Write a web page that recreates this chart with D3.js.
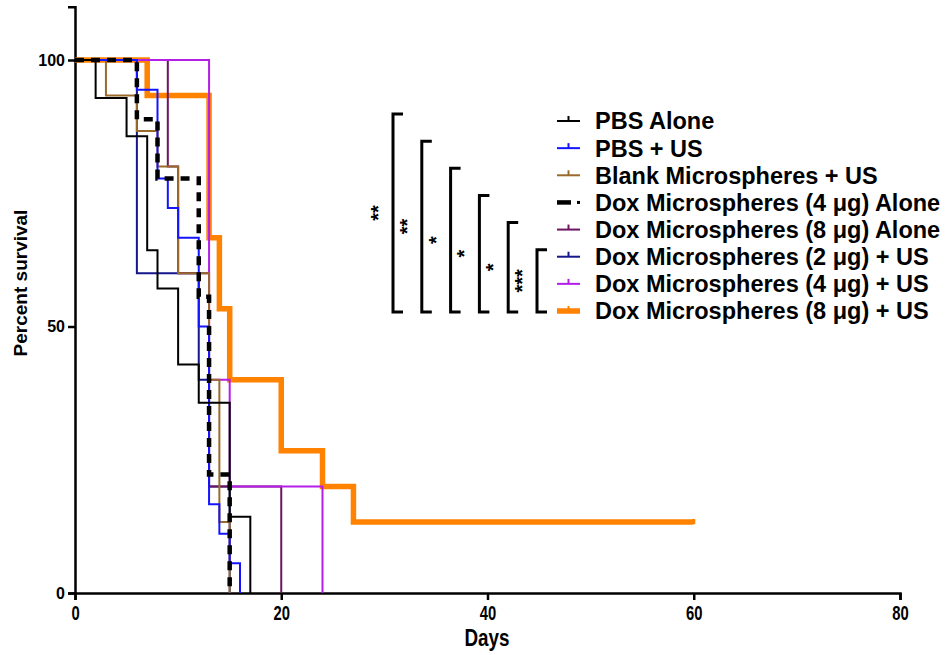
<!DOCTYPE html>
<html>
<head>
<meta charset="utf-8">
<script src="https://cdn.jsdelivr.net/npm/d3@7"></script>
<style>
	body { margin: 0; background: #fff; }
	svg { font-family: "Liberation Sans", Arial, sans-serif; font-weight: bold; }
</style>
</head>
<body>
<svg width="950" height="655"></svg>
<script>
// groups in legend order
const groups = [
	'PBS Alone',
	'PBS + US',
	'Blank Microspheres + US',
	'Dox Microspheres (4 μg) Alone',
	'Dox Microspheres (8 μg) Alone',
	'Dox Microspheres (2 μg) + US',
	'Dox Microspheres (4 μg) + US',
	'Dox Microspheres (8 μg) + US'
];
const colours = ['#000000', '#1414ff', '#9a6a2c', '#000000', '#6e1460', '#16168c', '#b41ee8', '#ff8200'];

// Kaplan-Meier steps (days, percent survival)
const pbsDays = [0, 2, 5, 7, 8, 10, 12, 15, 17];
const pbsSurv = [100, 92.86, 85.71, 64.29, 57.14, 42.86, 35.71, 14.29, 0];
const pbsUsDays = [0, 6, 8, 9, 10, 12, 13, 14, 15, 16];
const pbsUsSurv = [100, 94.44, 77.78, 72.22, 66.67, 50, 16.67, 11.11, 5.56, 0];
const blankDays = [0, 3, 6, 8, 10, 13, 14, 15];
const blankSurv = [100, 93.33, 86.67, 80, 60, 40, 13.33, 0];
const dox4AloneDays = [0, 6, 8, 12, 13, 15];
const dox4AloneSurv = [100, 88.89, 77.78, 55.56, 22.22, 0];
const dox8AloneDays = [0, 9, 10, 13, 20];
const dox8AloneSurv = [100, 80, 60, 20, 0];
const dox2UsDays = [0, 6, 12, 13, 15];
const dox2UsSurv = [100, 60, 40, 20, 0];
const dox4UsDays = [0, 13, 15, 24];
const dox4UsSurv = [100, 40, 20, 0];
const dox8UsDays = [0, 7, 13, 14, 15, 20, 24, 27, 60];
const dox8UsSurv = [100, 93.33, 66.67, 53.33, 40, 26.67, 20, 13.33, 13.33];
const dox8UsCensored = [60];

const xTicks = [0, 20, 40, 60, 80];
const yTicks = [0, 50, 100];

// significance brackets: each group vs Dox (8 μg) + US
const compared = ['PBS Alone', 'PBS + US', 'Blank Microspheres + US', 'Dox Microspheres (4 μg) Alone', 'Dox Microspheres (8 μg) Alone', 'Dox Microspheres (2 μg) + US'];
const stars = ['**', '**', '*', '*', '*', '***'];

const series = [
	[pbsDays, pbsSurv], [pbsUsDays, pbsUsSurv], [blankDays, blankSurv],
	[dox4AloneDays, dox4AloneSurv], [dox8AloneDays, dox8AloneSurv],
	[dox2UsDays, dox2UsSurv], [dox4UsDays, dox4UsSurv], [dox8UsDays, dox8UsSurv]
].map((s, i) => ({
	name: groups[i],
	colour: colours[i],
	width: i == 7 ? 5.5 : (i == 3 ? 4.5 : 2),
	dash: i == 3 ? '9,7' : null,
	pts: s[0].map((d, j) => [d, s[1][j]])
}));

const svg = d3.select('svg');

const x = d3.scaleLinear().domain([0, 80]).range([75, 900]);
const y = d3.scaleLinear().domain([0, 110]).range([593, 593 - 110 * 5.33]);

// axes
const xAxis = svg.append('g')
	.attr('transform', 'translate(0,593)')
	.call(d3.axisBottom(x).tickValues(xTicks).tickSizeOuter(0).tickSize(7).tickPadding(6));
xAxis.selectAll('text')
	.attr('font-size', 20)
	.attr('transform', 'scale(0.74,1)');

const yAxis = svg.append('g')
	.attr('transform', 'translate(75,0)')
	.call(d3.axisLeft(y).tickValues(yTicks).tickSizeOuter(0).tickSize(7).tickPadding(3));
yAxis.selectAll('text').attr('font-size', 16);

svg.selectAll('.domain, .tick line')
	.attr('stroke', '#000')
	.attr('stroke-width', 2.5);

svg.append('text')
	.attr('transform', 'translate(487,646) scale(0.82,1)')
	.attr('text-anchor', 'middle')
	.attr('font-size', 23)
	.text('Days');

svg.append('text')
	.attr('transform', 'translate(27,283) rotate(-90)')
	.attr('text-anchor', 'middle')
	.attr('font-size', 19)
	.text('Percent survival');

// curves
const line = d3.line()
	.x(d => x(d[0]))
	.y(d => y(d[1]))
	.curve(d3.curveStepAfter);

const drawOrder = [7, 5, 4, 6, 2, 1, 0, 3];
svg.append('g').selectAll('path')
	.data(drawOrder.map(i => series[i]))
	.enter().append('path')
		.attr('d', d => line(d.pts))
		.attr('fill', 'none')
		.attr('stroke', d => d.colour)
		.attr('stroke-width', d => d.width)
		.attr('stroke-dasharray', d => d.dash)
		.attr('stroke-linejoin', 'miter');

// censored tick on the last group
svg.append('g').selectAll('line')
	.data(dox8UsCensored)
	.enter().append('line')
		.attr('x1', d => x(d)).attr('x2', d => x(d))
		.attr('y1', y(13.33) + 2).attr('y2', y(13.33) - 3)
		.attr('stroke', colours[7])
		.attr('stroke-width', 3);

// legend
const ly = d3.scaleLinear().domain([0, groups.length - 1]).range([121, 311]);
const legend = svg.append('g').selectAll('g')
	.data(series)
	.enter().append('g')
		.attr('transform', (d, i) => `translate(0,${ly(i)})`);

legend.append('line')
	.attr('x1', 557).attr('x2', d => d.dash ? 571 : 580)
	.attr('y1', 0).attr('y2', 0)
	.attr('stroke', d => d.colour)
	.attr('stroke-width', d => d.width);
legend.filter(d => d.dash).append('rect')
	.attr('x', 577).attr('y', -1.5).attr('width', 3).attr('height', 3)
	.attr('fill', '#000');
legend.filter(d => !d.dash).append('line')
	.attr('x1', 568.5).attr('x2', 568.5)
	.attr('y1', 0).attr('y2', -5)
	.attr('stroke', d => d.colour)
	.attr('stroke-width', 2);

legend.append('text')
	.attr('x', 595)
	.attr('dy', '0.36em')
	.attr('font-size', 23.5)
	.text(d => d.name);

// brackets
const bx = d3.scaleLinear().domain([0, compared.length - 1]).range([393, 537]);
const bottom = ly(groups.length - 1) + 1;
const brackets = svg.append('g').selectAll('g')
	.data(compared)
	.enter().append('g');

brackets.append('path')
	.attr('d', (d, i) => {
		const top = ly(groups.indexOf(d)) - 7;
		return `M${bx(i) + 10},${top}H${bx(i)}V${bottom}H${bx(i) + 10}`;
	})
	.attr('fill', 'none')
	.attr('stroke', '#000')
	.attr('stroke-width', 3);

brackets.append('text')
	.attr('transform', (d, i) => {
		const top = ly(groups.indexOf(d)) - 7;
		return `translate(${bx(i) - 8},${(top + bottom) / 2}) rotate(-90)`;
	})
	.attr('text-anchor', 'middle')
	.attr('font-size', 20)
	.text((d, i) => stars[i]);
</script>
</body>
</html>
